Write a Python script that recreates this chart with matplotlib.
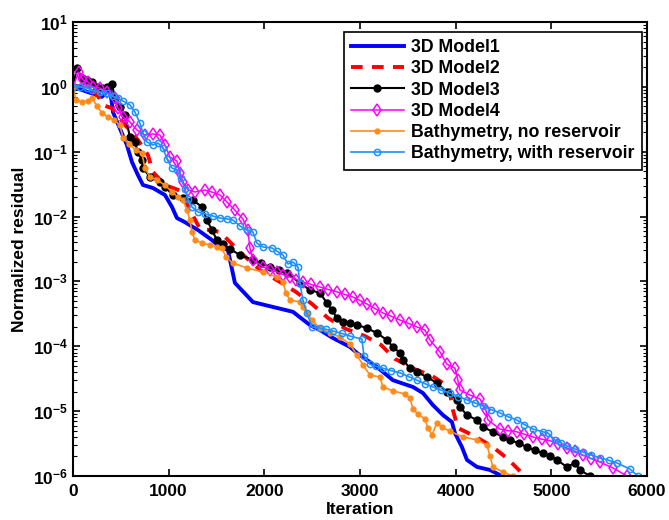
import math

import matplotlib
matplotlib.use("Agg")
import matplotlib.pyplot as plt
from matplotlib.ticker import FixedLocator, LogLocator, NullFormatter, FuncFormatter

# ---- data ----
model1_iter = [0, 303, 387, 418, 564, 617, 679, 732, 836, 962, 1035, 1087, 1171, 1307,
               1453, 1537, 1620, 1693, 1882, 2300, 2373, 2477, 2582, 2718, 2895, 2969,
               3073, 3178, 3345, 3554, 3659, 3763, 3868, 3962, 3993, 4066, 4119, 4223,
               4359, 4484]
model1_res = [1.0, 0.70, 0.96, 0.41, 0.127, 0.0695, 0.0438, 0.0307, 0.0276, 0.0215,
              0.0141, 0.0095, 0.0082, 0.0062, 0.00435, 0.0034, 0.00305, 0.00095, 0.00048,
              0.00034, 0.00028, 0.000213, 0.000178, 0.000134, 9.8e-5, 7.9e-5, 6.15e-5,
              4.8e-5, 3.0e-5, 2.36e-5, 1.9e-5, 1.24e-5, 8.7e-6, 6.8e-6, 4.6e-6, 2.8e-6,
              1.77e-6, 1.38e-6, 1.24e-6, 1.0e-6]

model2_iter = [0, 125, 230, 334, 408, 544, 679, 784, 836, 962, 1129, 1213, 1328, 1432,
               1537, 1746, 1955, 2164, 2331, 2498, 2666, 2854, 3052, 3220, 3366, 3564,
               3753, 3930, 3972, 4024, 4202, 4390, 4547, 4693, 4746]
model2_res = [1.0, 1.07, 0.83, 0.51, 0.47, 0.26, 0.152, 0.089, 0.0487, 0.0307, 0.0248,
              0.0136, 0.00644, 0.0062, 0.00578, 0.00284, 0.0015, 0.00098, 0.00069,
              0.00045, 0.000273, 0.000185, 0.000144, 0.000105, 6.4e-5, 4.5e-5, 3.5e-5,
              2.36e-5, 1.04e-5, 5.5e-6, 4.1e-6, 2.8e-6, 1.83e-6, 1.11e-6, 1.0e-6]

model3_iter = [0, 42, 94, 146, 199, 251, 303, 355, 408, 439, 491, 544, 596, 648, 679,
               721, 732, 805, 909, 962, 1045, 1150, 1254, 1348, 1401, 1453, 1505, 1568,
               1641, 1746, 1882, 1970, 2059, 2150, 2237, 2373, 2477, 2582, 2655, 2707,
               2760, 2822, 2895, 2969, 3073, 3178, 3282, 3345, 3418, 3449, 3523, 3596,
               3700, 3805, 3909, 4014, 4045, 4119, 4223, 4286, 4390, 4495, 4568, 4660,
               4746, 4830, 4913, 4990, 5059, 5164, 5247, 5300, 5404]
model3_res = [1.0, 1.95, 1.37, 1.28, 1.19, 1.0, 0.96, 1.0, 1.11, 0.67, 0.49, 0.37,
              0.169, 0.141, 0.099, 0.0745, 0.0561, 0.0407, 0.0341, 0.0286, 0.0215,
              0.0193, 0.018, 0.0141, 0.00885, 0.0062, 0.00435, 0.00378, 0.00316,
              0.00256, 0.00214, 0.0019, 0.00167, 0.0015, 0.00135, 0.000946, 0.000738,
              0.000664, 0.000465, 0.000363, 0.000273, 0.000237, 0.000225, 0.000213,
              0.000191, 0.00016, 0.000125, 9.8e-5, 7.9e-5, 6.15e-5, 4.6e-5, 4.0e-5,
              3.36e-5, 2.72e-5, 1.97e-5, 1.49e-5, 1.16e-5, 8.7e-6, 7.3e-6, 5.7e-6,
              4.8e-6, 4.0e-6, 3.6e-6, 3.2e-6, 2.8e-6, 2.5e-6, 2.26e-6, 2.0e-6, 1.77e-6,
              1.38e-6, 1.59e-6, 1.24e-6, 1.0e-6]

model4_iter = [0, 63, 105, 157, 209, 282, 355, 439, 470, 523, 596, 669, 753, 836, 909,
               962, 1014, 1087, 1118, 1150, 1202, 1275, 1380, 1453, 1537, 1610, 1693,
               1777, 1829, 1850, 1882, 1986, 2060, 2132, 2200, 2268, 2336, 2404, 2490,
               2582, 2670, 2760, 2840, 2927, 3000, 3073, 3160, 3240, 3330, 3418, 3510,
               3596, 3679, 3732, 3836, 3909, 3993, 4024, 4045, 4150, 4254, 4317, 4338,
               4463, 4550, 4641, 4720, 4808, 4900, 4986, 5075, 5164, 5250, 5331, 5420,
               5509, 5645, 5791]
model4_res = [1.0, 1.69, 1.28, 1.19, 1.0, 0.96, 0.83, 0.67, 0.47, 0.343, 0.287, 0.216,
              0.181, 0.188, 0.181, 0.127, 0.083, 0.072, 0.047, 0.0341, 0.0257, 0.0239,
              0.0257, 0.0239, 0.0215, 0.0168, 0.0126, 0.00918, 0.0062, 0.00328, 0.00214,
              0.00167, 0.00152, 0.0014, 0.00127, 0.00117, 0.00107, 0.00098, 0.0009,
              0.00082, 0.00075, 0.00069, 0.00063, 0.000575, 0.00051, 0.000449, 0.00038,
              0.000326, 0.00029, 0.000254, 0.000225, 0.000199, 0.000178, 0.000125,
              8.2e-5, 5.3e-5, 4.6e-5, 3.0e-5, 2.12e-5, 1.77e-5, 1.54e-5, 1.04e-5, 7.3e-6,
              5.3e-6, 5.0e-6, 4.8e-6, 4.4e-6, 4.0e-6, 3.7e-6, 3.5e-6, 3.1e-6, 2.7e-6,
              2.4e-6, 2.1e-6, 1.85e-6, 1.64e-6, 1.33e-6, 1.0e-6]

bathy_nores_iter = [0, 31, 94, 157, 199, 251, 303, 366, 429, 491, 523, 585, 659, 721,
                    753, 805, 878, 962, 1035, 1098, 1150, 1192, 1223, 1244, 1275, 1348,
                    1432, 1505, 1558, 1599, 1672, 1819, 1986, 2132, 2195, 2227, 2268,
                    2373, 2404, 2446, 2498, 2582, 2686, 2791, 2895, 2969, 3031, 3105,
                    3209, 3240, 3345, 3470, 3523, 3554, 3606, 3679, 3711, 3753, 3805,
                    3857, 3941, 4077, 4223, 4328, 4359, 4390, 4495, 4600]
bathy_nores_res = [1.0, 0.627, 0.58, 0.605, 0.67, 0.507, 0.395, 0.343, 0.308, 0.258,
                   0.163, 0.1315, 0.106, 0.0955, 0.0561, 0.0407, 0.0366, 0.0307, 0.0239,
                   0.02, 0.018, 0.0126, 0.00885, 0.00578, 0.00435, 0.0039, 0.00365,
                   0.0034, 0.00328, 0.00238, 0.00192, 0.00161, 0.0014, 0.00117, 0.00098,
                   0.000664, 0.000518, 0.000482, 0.000404, 0.000326, 0.000254, 0.000191,
                   0.00016, 0.000139, 0.000108, 7.3e-5, 5.15e-5, 3.6e-5, 3.36e-5,
                   2.36e-5, 2.05e-5, 1.84e-5, 1.6e-5, 1.08e-5, 9.0e-6, 7.6e-6, 5.5e-6,
                   4.3e-6, 6.6e-6, 5.7e-6, 4.9e-6, 4.0e-6, 3.6e-6, 3.0e-6, 2.04e-6,
                   1.38e-6, 1.15e-6, 1.0e-6]

bathy_res_iter = [0, 73, 146, 199, 282, 355, 418, 470, 523, 596, 648, 700, 732, 774, 836,
                  889, 941, 983, 1035, 1087, 1129, 1171, 1202, 1244, 1307, 1380, 1463,
                  1537, 1610, 1672, 1746, 1819, 1882, 1923, 1986, 2080, 2132, 2195, 2247,
                  2300, 2352, 2373, 2404, 2446, 2498, 2582, 2650, 2718, 2810, 2895, 3021,
                  3042, 3105, 3170, 3240, 3330, 3418, 3510, 3596, 3680, 3763, 3850, 3941,
                  4030, 4119, 4200, 4286, 4370, 4463, 4550, 4641, 4720, 4808, 4913, 4965,
                  5038, 5100, 5164, 5250, 5331, 5420, 5509, 5600, 5686, 5822, 5906]
bathy_res_res = [1.0, 1.0, 0.96, 0.895, 0.83, 0.80, 0.72, 0.67, 0.605, 0.525, 0.41,
                 0.277, 0.194, 0.141, 0.127, 0.136, 0.114, 0.0773, 0.0561, 0.0523, 0.0394,
                 0.0266, 0.0187, 0.0141, 0.0118, 0.011, 0.0102, 0.0095, 0.0092, 0.00885,
                 0.00716, 0.0062, 0.00578, 0.0039, 0.0034, 0.00328, 0.00294, 0.00256,
                 0.00186, 0.002, 0.00167, 0.000946, 0.000518, 0.000326, 0.000199,
                 0.000191, 0.000182, 0.000172, 0.000158, 0.000144, 0.000129, 7.1e-5,
                 5.3e-5, 4.9e-5, 4.6e-5, 4.2e-5, 3.9e-5, 3.4e-5, 3.0e-5, 2.65e-5, 2.36e-5,
                 2.1e-5, 1.9e-5, 1.68e-5, 1.49e-5, 1.34e-5, 1.2e-5, 1.06e-5, 9.4e-6,
                 8.2e-6, 7.3e-6, 6.2e-6, 5.3e-6, 4.8e-6, 4.6e-6, 3.6e-6, 3.25e-6, 2.9e-6,
                 2.6e-6, 2.34e-6, 2.1e-6, 1.9e-6, 1.75e-6, 1.59e-6, 1.28e-6, 1.0e-6]

x_ticks = [0, 1000, 2000, 3000, 4000, 5000, 6000]

plt.rcParams["font.family"] = "Liberation Sans"
plt.rcParams["font.weight"] = "bold"
plt.rcParams["mathtext.fontset"] = "custom"
plt.rcParams["mathtext.rm"] = "Liberation Sans:bold"
plt.rcParams["mathtext.bf"] = "Liberation Sans:bold"
plt.rcParams["mathtext.default"] = "regular"


def log_label(value, _pos):
    return r"$10^{%d}$" % round(math.log10(value))


fig = plt.figure(figsize=(6.69, 5.2), dpi=100)
ax = fig.add_axes([0.109, 0.0846, 0.858, 0.8731])

ax.plot(model1_iter, model1_res, color="#0000FF", lw=2.8, label="3D Model1")
ax.plot(model2_iter, model2_res, color="#FF0000", lw=2.8, dashes=(3.0, 2.4),
        label="3D Model2")
ax.plot(model3_iter, model3_res, color="black", lw=1.5, marker="o", ms=5,
        label="3D Model3")
ax.plot(model4_iter, model4_res, color="#FF00FF", lw=1.1, marker="d", ms=6,
        mfc="none", mew=1.1, label="3D Model4")
ax.plot(bathy_nores_iter, bathy_nores_res, color="#FF8C1A", lw=1.2, marker="o",
        ms=3.5, label="Bathymetry, no reservoir")
ax.plot(bathy_res_iter, bathy_res_res, color="#1E90FF", lw=1.2, marker="o", ms=4.5,
        mfc="none", mew=1.1, label="Bathymetry, with reservoir")

ax.set_yscale("log")
ax.set_xlim(0, 6000)
ax.set_ylim(1e-6, 1e1)
ax.xaxis.set_major_locator(FixedLocator(x_ticks))
ax.yaxis.set_major_locator(LogLocator(base=10, numticks=10))
ax.yaxis.set_minor_locator(LogLocator(base=10, subs=range(2, 10), numticks=100))
ax.yaxis.set_minor_formatter(NullFormatter())
ax.yaxis.set_major_formatter(FuncFormatter(log_label))
ax.xaxis.get_offset_text().set_visible(False)
ax.yaxis.get_offset_text().set_visible(False)

ax.tick_params(which="both", direction="in", top=True, right=True, labelsize=12.5)
ax.tick_params(axis="x", pad=6)
ax.tick_params(which="major", length=5, width=1.2)
ax.tick_params(which="minor", length=3, width=0.8)
for spine in ax.spines.values():
    spine.set_linewidth(1.5)

ax.set_xlabel("Iteration", fontsize=12.5, fontweight="bold", labelpad=2)
ax.set_ylabel("Normalized residual", fontsize=12.5, fontweight="bold", labelpad=4)

leg = ax.legend(loc="upper right", fontsize=12.8, handlelength=3.0, labelspacing=0.24,
                borderpad=0.4, handletextpad=0.4, borderaxespad=0, fancybox=False,
                framealpha=1, edgecolor="black", bbox_to_anchor=(0.991, 0.978))
leg.get_frame().set_linewidth(1.2)

fig.savefig("out.png", dpi=100)
